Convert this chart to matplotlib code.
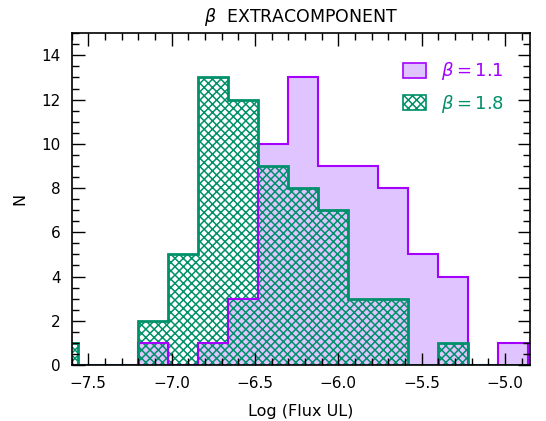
import matplotlib
matplotlib.use('Agg')
import matplotlib.pyplot as plt
import numpy as np
from matplotlib.patches import Patch
from matplotlib.ticker import MultipleLocator

plt.rcParams['font.family'] = ['DejaVu Sans']
plt.rcParams['mathtext.fontset'] = 'dejavusans'
plt.rcParams['hatch.linewidth'] = 1.1

# histogram bins (log flux upper limits), width 0.18
bin_start = -7.74
bin_width = 0.18
n_bins = 16
edges = bin_start + bin_width * np.arange(n_bins + 1)

counts_11 = [0, 0, 0, 1, 0, 1, 3, 10, 13, 9, 9, 8, 5, 4, 0, 1]
counts_18 = [1, 0, 0, 2, 5, 13, 12, 9, 8, 7, 3, 3, 0, 1, 0, 0]
labels = [r'$\beta = 1.1$', r'$\beta = 1.8$']

purple = '#a500ff'
purple_fill = '#e0c4ff'
green = '#00906a'

fig = plt.figure(figsize=(5.46, 4.21), dpi=100)
ax = fig.add_axes([0.131, 0.133, 0.84, 0.788])

ax.stairs(counts_11, edges, fill=True, facecolor=purple_fill, edgecolor='none')
ax.stairs(counts_18, edges, fill=True, facecolor='none', edgecolor=green,
          hatch='xxxx', linewidth=0)
ax.stairs(counts_11, edges, color=purple, linewidth=1.5)
ax.stairs(counts_18, edges, color=green, linewidth=2)

ax.set_xlim(-7.6, -4.85)
ax.set_ylim(0, 15)
ax.xaxis.set_major_locator(MultipleLocator(0.5))
ax.xaxis.set_minor_locator(MultipleLocator(0.1))
ax.yaxis.set_major_locator(MultipleLocator(2))
ax.yaxis.set_minor_locator(MultipleLocator(0.5))
ax.tick_params(which='both', direction='in', top=True, right=True, labelsize=11)
ax.tick_params(which='major', length=9, width=1, pad=8)
ax.tick_params(which='minor', length=5, width=1)
for s in ax.spines.values():
    s.set_linewidth(1.2)

ax.set_xlabel('Log (Flux UL)', fontsize=11.5, labelpad=9)
ax.set_ylabel('N', fontsize=11.5, labelpad=10)
ax.set_title(r'$\beta$  EXTRACOMPONENT', fontsize=12.5, pad=8)

handles = [Patch(facecolor=purple_fill, edgecolor=purple, linewidth=1.2),
           Patch(facecolor='white', edgecolor=green, hatch='xxxx', linewidth=1.2)]
ax.legend(handles, labels, loc='upper right', frameon=False, fontsize=13,
          labelcolor=[purple, green], handlelength=1.3, handleheight=0.9,
          handletextpad=0.8, labelspacing=0.6, borderaxespad=1.1)

fig.savefig('out.png', dpi=100)
